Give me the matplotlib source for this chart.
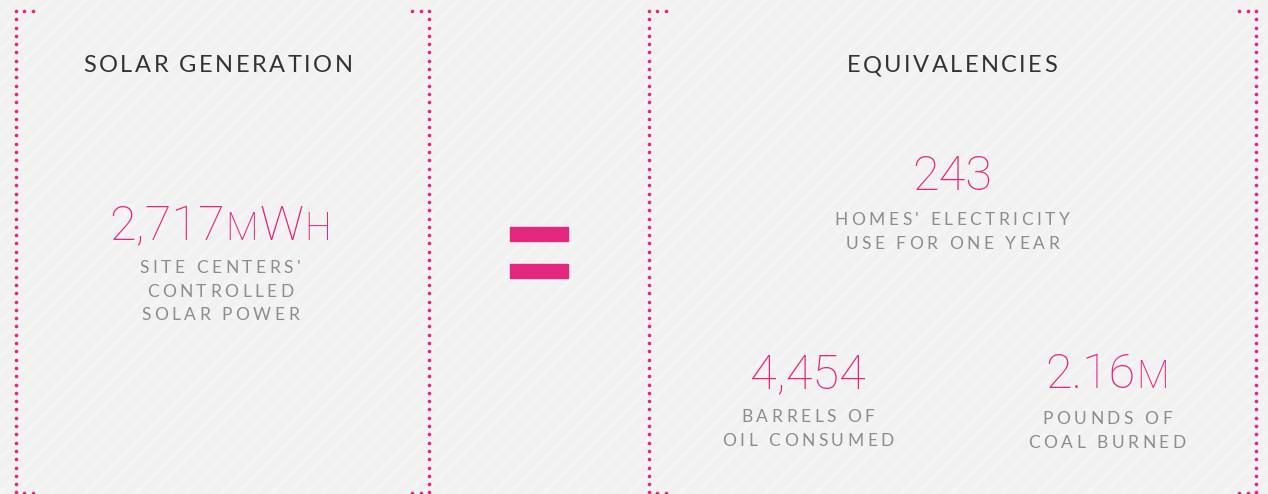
import matplotlib
matplotlib.use("Agg")
import matplotlib.pyplot as plt
from matplotlib.font_manager import FontProperties
import numpy as np

# infographic content
left_title = "SOLAR GENERATION"
right_title = "EQUIVALENCIES"
values = ["2,717", "243", "4,454", "2.16"]
units = ["mWh", "", "", "m"]
labels = [["SITE CENTERS'", "CONTROLLED", "SOLAR POWER"],
          ["HOMES' ELECTRICITY", "USE FOR ONE YEAR"],
          ["BARRELS OF", "OIL CONSUMED"],
          ["POUNDS OF", "COAL BURNED"]]
centers = [(220, 222), (952, 172), (808, 370), (1107, 370)]
label_y0 = [268, 220, 417, 419]

PINK = "#e3277f"
GRAY = "#8c8c8c"
DARK = "#333333"
W, H = 1268, 494

fig = plt.figure(figsize=(W / 100, H / 100), dpi=100)
ax = fig.add_axes([0, 0, 1, 1])
ax.set_xlim(0, W)
ax.set_ylim(H, 0)
ax.axis("off")
fig.patch.set_facecolor("#f1f1f1")

# faint diagonal stripes
for c in np.arange(-H, W + H, 17):
    ax.plot([c, c + H], [H, 0], color="white", lw=3, alpha=0.28, zorder=0)

# dotted frames
def dots(xs, ys):
    ax.plot(xs, ys, "o", color=PINK, ms=2.6, mew=0, zorder=2)

ys = np.arange(11, 495, 8.3)
for x, d in [(16, 1), (429, -1), (649, 1), (1256, -1)]:
    dots(np.full(len(ys), x), ys)
    hx = [x + d * 8.3, x + d * 16.6]
    dots(hx, [11, 11])
    dots(hx, [493, 493])

renderer = fig.canvas.get_renderer()

def spaced(x, y, s, size, color, spacing, family="Lato", weight="normal"):
    fp = FontProperties(family=family, size=size, weight=weight)
    ws = [renderer.get_text_width_height_descent(ch, fp, ismath=False)[0] for ch in s]
    total = sum(ws) + spacing * (len(s) - 1)
    cx = x - total / 2
    for ch, w in zip(s, ws):
        ax.text(cx, y, ch, fontproperties=fp, color=color, ha="left", va="center")
        cx += w + spacing

spaced(218, 66, left_title, 17, DARK, 2.5)
spaced(952, 66, right_title, 17, DARK, 2.4)

# big numbers with small-cap units
def number(x, y, val, unit, size):
    fp = FontProperties(family="Roboto", size=size, weight="light")
    fps = FontProperties(family="Roboto", size=size * 0.78, weight="light")
    parts = []
    for ch in unit:
        if ch.islower():
            parts.append((ch.upper(), fps))
        else:
            parts.append((ch, fp))
    parts = [(val, fp)] + parts
    ws = [renderer.get_text_width_height_descent(t, p, ismath=False)[0] for t, p in parts]
    gap = 1.0
    total = sum(ws) + gap * (len(parts) - 1)
    cx = x - total / 2
    for (t, p), w in zip(parts, ws):
        ax.text(cx, y + 18, t, fontproperties=p, color=PINK, ha="left", va="baseline")
        cx += w + gap

for (cx, cy), v, u in zip(centers, values, units):
    number(cx, cy, v, u, 35)

for (cx, _), y0, lines in zip(centers, label_y0, labels):
    for i, line in enumerate(lines):
        spaced(cx, y0 + i * 23.5, line, 12.5, GRAY, 3.5)

# equals sign
ax.add_patch(plt.Rectangle((510, 227), 58, 14, color=PINK, zorder=3))
ax.add_patch(plt.Rectangle((510, 264), 58, 14, color=PINK, zorder=3))

fig.savefig("out.png", dpi=100, facecolor=fig.get_facecolor())
